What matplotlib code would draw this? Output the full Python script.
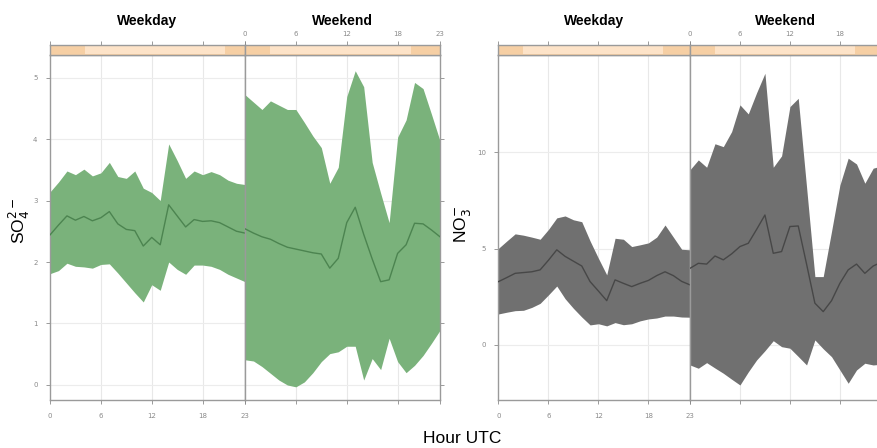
import matplotlib.pyplot as plt

hours = list(range(24))
tick_hours = [0, 6, 12, 18, 23]

# SO4 (mean and interval), weekday / weekend
so4_wd_mean = [2.44, 2.60, 2.75, 2.68, 2.74, 2.67, 2.72, 2.82, 2.62, 2.53, 2.51, 2.26,
               2.40, 2.28, 2.93, 2.75, 2.57, 2.69, 2.66, 2.67, 2.64, 2.57, 2.50, 2.47]
so4_wd_hi = [3.14, 3.30, 3.48, 3.42, 3.51, 3.40, 3.45, 3.62, 3.39, 3.36, 3.48, 3.20,
             3.13, 3.00, 3.92, 3.65, 3.36, 3.48, 3.42, 3.47, 3.42, 3.33, 3.28, 3.26]
so4_wd_lo = [1.81, 1.86, 1.98, 1.93, 1.92, 1.90, 1.96, 1.97, 1.82, 1.66, 1.50, 1.35,
             1.63, 1.54, 2.00, 1.88, 1.80, 1.95, 1.95, 1.93, 1.88, 1.80, 1.74, 1.68]
so4_we_mean = [2.54, 2.47, 2.41, 2.37, 2.30, 2.24, 2.21, 2.18, 2.15, 2.13, 1.90, 2.06,
               2.64, 2.89, 2.45, 2.05, 1.68, 1.71, 2.14, 2.28, 2.63, 2.62, 2.52, 2.41]
so4_we_hi = [4.72, 4.60, 4.48, 4.62, 4.55, 4.48, 4.48, 4.27, 4.05, 3.86, 3.28, 3.54,
             4.69, 5.11, 4.85, 3.62, 3.12, 2.64, 4.03, 4.31, 4.92, 4.82, 4.40, 3.97]
so4_we_lo = [0.41, 0.39, 0.30, 0.19, 0.08, 0.00, -0.03, 0.05, 0.20, 0.38, 0.51, 0.54,
             0.63, 0.63, 0.08, 0.43, 0.25, 0.76, 0.38, 0.20, 0.32, 0.48, 0.68, 0.89]

# NO3 (mean and interval), weekday / weekend
no3_wd_mean = [3.29, 3.50, 3.72, 3.76, 3.80, 3.90, 4.40, 4.94, 4.60, 4.35, 4.10, 3.29,
               2.80, 2.30, 3.38, 3.20, 3.03, 3.20, 3.35, 3.60, 3.80, 3.60, 3.30, 3.12]
no3_wd_hi = [5.02, 5.40, 5.77, 5.70, 5.60, 5.49, 6.00, 6.60, 6.70, 6.50, 6.40, 5.40,
             4.50, 3.64, 5.54, 5.49, 5.11, 5.20, 5.30, 5.60, 6.23, 5.60, 4.97, 4.94]
no3_wd_lo = [1.61, 1.70, 1.78, 1.80, 1.95, 2.16, 2.60, 3.06, 2.40, 1.90, 1.45, 1.04,
             1.10, 0.99, 1.16, 1.05, 1.10, 1.25, 1.35, 1.40, 1.50, 1.50, 1.45, 1.44]
no3_we_mean = [3.98, 4.24, 4.20, 4.62, 4.42, 4.73, 5.11, 5.28, 6.00, 6.75, 4.76, 4.85,
               6.15, 6.18, 4.20, 2.17, 1.73, 2.30, 3.20, 3.90, 4.20, 3.72, 4.10, 4.30]
no3_we_hi = [9.10, 9.61, 9.23, 10.45, 10.30, 11.08, 12.47, 12.00, 13.10, 14.11, 9.23, 9.82,
             12.38, 12.81, 8.20, 3.55, 3.55, 5.90, 8.30, 9.70, 9.40, 8.40, 9.18, 9.30]
no3_we_lo = [-1.04, -1.21, -0.92, -1.20, -1.47, -1.78, -2.08, -1.40, -0.78, -0.30, 0.22, -0.09,
             -0.17, -0.60, -1.04, 0.26, -0.20, -0.61, -1.30, -1.99, -1.30, -0.95, -1.04, -1.00]

W, H = 877, 448
fig = plt.figure(figsize=(W / 100, H / 100), dpi=100)

frame_col = '#9a9a9a'
tick_col = '#8a8a8a'
strip_dark = '#f6cfa4'
strip_light = '#fde3c8'
font = 'Liberation Sans'


def px_axes(x0, x1, y0, y1):
    return fig.add_axes([x0 / W, 1 - y1 / H, (x1 - x0) / W, (y1 - y0) / H])


def style_spines(ax):
    for s in ax.spines.values():
        s.set_color(frame_col)
        s.set_linewidth(1.0)


def panel(x0, x1, name, mean, lo, hi, fill, line, ylim, yticks, weekday, band,
          top_ticks=tick_hours):
    ax = px_axes(x0, x1, 55, 400)
    ax.fill_between(hours, lo, hi, color=fill, lw=0, zorder=2)
    ax.plot(hours, mean, color=line, lw=1.0, zorder=3)
    ax.set_xlim(0, 23)
    ax.set_ylim(*ylim)
    ax.set_xticks(tick_hours)
    ax.set_yticks(yticks)
    for v in [6, 12, 18]:
        ax.axvline(v, color='#e8e8e8', lw=0.8, zorder=1)
    for v in yticks:
        ax.axhline(v, color='#ececec', lw=0.8, zorder=1)
    ax.tick_params(axis='both', direction='out', length=3, width=0.6, colors=tick_col,
                   labelsize=5, pad=6)
    # lattice-style alternation: weekday carries bottom / left labels
    ax.tick_params(axis='x', labelbottom=weekday)
    ax.tick_params(axis='y', left=weekday, labelleft=weekday, right=not weekday)
    style_spines(ax)

    # strip above the panel, with top axis ticks
    st = px_axes(x0, x1, 45, 55)
    st.set_xlim(0, 23)
    st.set_ylim(0, 1)
    st.set_facecolor(strip_dark)
    st.axvspan(band[0] * 23, band[1] * 23, ymin=0.1, ymax=0.9, color=strip_light, lw=0)
    st.set_yticks([])
    st.set_xticks(tick_hours)
    st.set_xticklabels([str(h) if (not weekday and h in top_ticks) else '' for h in tick_hours])
    st.tick_params(axis='x', direction='out', length=3, width=0.6, colors=tick_col,
                   labelsize=5, pad=3, top=True, labeltop=True, bottom=False,
                   labelbottom=False)
    style_spines(st)

    ax.text(0.5, 1.0 + 34 / 345, name, transform=ax.transAxes, ha='center',
            va='center', fontsize=10, fontweight='bold', family=font)
    return ax


green_fill, green_line = '#7ab27b', '#4c8450'
grey_fill, grey_line = '#707070', '#474747'

so4_ylim = (-0.244, 5.366)
no3_ylim = (-2.86, 15.06)

panel(50, 245, 'Weekday', so4_wd_mean, so4_wd_lo, so4_wd_hi, green_fill, green_line,
      so4_ylim, [0, 1, 2, 3, 4, 5], True, (0.18, 0.90))
panel(245, 440, 'Weekend', so4_we_mean, so4_we_lo, so4_we_hi, green_fill, green_line,
      so4_ylim, [0, 1, 2, 3, 4, 5], False, (0.13, 0.85))
panel(498.5, 690, 'Weekday', no3_wd_mean, no3_wd_lo, no3_wd_hi, grey_fill, grey_line,
      no3_ylim, [0, 5, 10], True, (0.13, 0.86))
panel(690, 881.5, 'Weekend', no3_we_mean, no3_we_lo, no3_we_hi, grey_fill, grey_line,
      no3_ylim, [0, 5, 10], False, (0.13, 0.86), top_ticks=[0, 6, 12, 18])

fig.text(19 / W, 1 - 221 / H, 'SO$_4^{2-}$', rotation=90,
         ha='center', va='center', fontsize=12.5, family=font)
fig.text(462 / W, 1 - 224 / H, 'NO$_3^{-}$', rotation=90,
         ha='center', va='center', fontsize=12.5, family=font)
fig.text(462 / W, 1 - 438 / H, 'Hour UTC', ha='center', va='center',
         fontsize=12.5, family=font)

fig.savefig('out.png', dpi=100)
